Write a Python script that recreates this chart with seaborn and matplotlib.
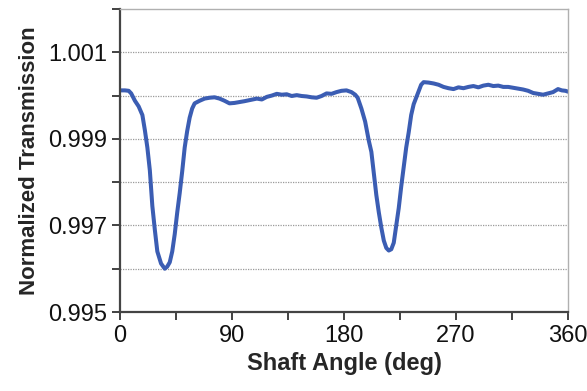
import numpy as np
import pandas as pd
import matplotlib
matplotlib.use("Agg")
import matplotlib.pyplot as plt
import seaborn as sns

# values
angle = [0, 4, 7, 9, 12, 15, 18, 20, 22, 24, 26, 28, 30, 33, 36, 38, 40, 42, 44, 46,
         48, 50, 52, 54, 56, 58, 60, 64, 68, 72, 76, 80, 84, 88, 92, 96, 100, 105, 110, 114,
         118, 122, 126, 130, 134, 138, 142, 146, 150, 154, 158, 162, 166, 170, 174, 178, 182, 186, 189, 191,
         194, 197, 200, 202, 204, 206, 208, 210, 212, 214, 216, 218, 220, 222, 224, 226, 228, 230, 232, 234,
         236, 238, 240, 242, 244, 248, 252, 256, 260, 264, 268, 272, 276, 280, 284, 288, 292, 296, 300, 304,
         308, 312, 316, 320, 324, 328, 332, 336, 340, 344, 348, 352, 355, 358, 360]
transmission = [1.00012, 1.00012, 1.00011, 1.00005, 0.99988, 0.99975, 0.99955, 0.99920, 0.99880, 0.99827,
                0.99745, 0.99690, 0.99640, 0.99612, 0.99600, 0.99605, 0.99615, 0.99640, 0.99680, 0.99730,
                0.99775, 0.99825, 0.99880, 0.99918, 0.99949, 0.99970, 0.99982, 0.99988, 0.99993, 0.99995,
                0.99996, 0.99993, 0.99988, 0.99982, 0.99983, 0.99985, 0.99987, 0.99990, 0.99993, 0.99991,
                0.99997, 1.00000, 1.00004, 1.00002, 1.00003, 0.99999, 1.00001, 0.99999, 0.99998, 0.99996,
                0.99995, 0.99999, 1.00005, 1.00004, 1.00008, 1.00011, 1.00012, 1.00008, 1.00002, 0.99995,
                0.99970, 0.99940, 0.99895, 0.99870, 0.99820, 0.99770, 0.99730, 0.99695, 0.99665, 0.99648,
                0.99642, 0.99645, 0.99660, 0.99700, 0.99740, 0.99790, 0.99835, 0.99880, 0.99915, 0.99955,
                0.99980, 0.99995, 1.00010, 1.00025, 1.00031, 1.00030, 1.00028, 1.00025, 1.00020, 1.00017,
                1.00015, 1.00019, 1.00017, 1.00020, 1.00022, 1.00019, 1.00023, 1.00025, 1.00022, 1.00023,
                1.00020, 1.00020, 1.00018, 1.00016, 1.00014, 1.00011, 1.00006, 1.00004, 1.00002, 1.00005,
                1.00008, 1.00015, 1.00012, 1.00011, 1.00009]

x_ticks = [0, 45, 90, 135, 180, 225, 270, 315, 360]
x_labels = ["0", "", "90", "", "180", "", "270", "", "360"]
y_ticks = [0.995, 0.996, 0.997, 0.998, 0.999, 1.000, 1.001, 1.002]
y_labels = ["0.995", "", "0.997", "", "0.999", "", "1.001", ""]

df = pd.DataFrame({"angle": angle, "transmission": transmission})

sns.set_style("white")
plt.rcParams['font.family'] = ['Liberation Sans', 'DejaVu Sans']

fig = plt.figure(figsize=(5.87, 3.91), dpi=100)
ax = fig.add_axes([0.2044, 0.202, 0.7632, 0.775])

# dotted grid lines
for yv in y_ticks[1:-1]:
    ax.axhline(yv, color="#9a9a9a", lw=0.9, ls=(0, (1, 1)), zorder=0)

sns.lineplot(data=df, x="angle", y="transmission", ax=ax, color="#3b5db3", lw=2.9)

ax.set_xlim(0, 360)
ax.set_ylim(0.995, 1.002)
ax.set_xticks(x_ticks)
ax.set_xticklabels(x_labels)
ax.set_yticks(y_ticks)
ax.set_yticklabels(y_labels)
ax.tick_params(axis="both", direction="out", length=6, width=1.3, color="#333333",
               labelsize=17, labelcolor="#111111", pad=3, left=True, bottom=True)

for s in ["left", "bottom"]:
    ax.spines[s].set_color("#444444")
    ax.spines[s].set_linewidth(1.6)
for s in ["top", "right"]:
    ax.spines[s].set_color("#b0b0b0")
    ax.spines[s].set_linewidth(1.0)

ax.set_xlabel("Shaft Angle (deg)", fontsize=17, fontweight="bold", labelpad=4)
ax.set_ylabel("Normalized Transmission", fontsize=16, fontweight="bold", labelpad=6)

fig.savefig("out.png", dpi=100)
